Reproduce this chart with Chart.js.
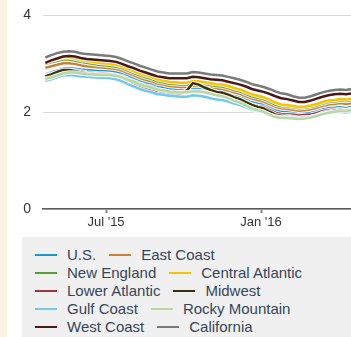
<!DOCTYPE html>
<html>
<head>
<meta charset="utf-8">
<script src="https://cdn.jsdelivr.net/npm/chart.js@4"></script>
<style>
  html, body { margin: 0; padding: 0; background: #fff; }
  body { width: 351px; height: 337px; position: relative; overflow: hidden; font-family: "Liberation Sans", Arial, sans-serif; }
  #strip { position: absolute; left: 0; top: 0; width: 7px; height: 337px; background: #fbf4e2; }
  #chart { position: absolute; left: 0; top: -5px; }
  #legend { position: absolute; left: 22px; top: 237px; width: 329px; height: 100px; background: #f0f0f0;
            box-sizing: border-box; padding: 9px 0 0 13px; font-size: 15px; color: #36465a; }
  .row { height: 18px; line-height: 18px; white-space: nowrap; }
  .item { display: inline-block; margin-right: 13px; }
  .sw { display: inline-block; width: 22px; height: 2px; vertical-align: middle; margin-right: 10px; position: relative; top: -1px; }
</style>
</head>
<body>
<div id="strip"></div>
<canvas id="chart" width="351" height="242"></canvas>
<div id="legend"></div>
<script>
// weekly dates (Mondays)
const weeks = [
  "2015-04-20","2015-04-27","2015-05-04","2015-05-11","2015-05-18","2015-05-25","2015-06-01","2015-06-08",
  "2015-06-15","2015-06-22","2015-06-29","2015-07-06","2015-07-13","2015-07-20","2015-07-27","2015-08-03",
  "2015-08-10","2015-08-17","2015-08-24","2015-08-31","2015-09-07","2015-09-14","2015-09-21","2015-09-28",
  "2015-10-05","2015-10-12","2015-10-19","2015-10-26","2015-11-02","2015-11-09","2015-11-16","2015-11-23",
  "2015-11-30","2015-12-07","2015-12-14","2015-12-21","2015-12-28","2016-01-04","2016-01-11","2016-01-18",
  "2016-01-25","2016-02-01","2016-02-08","2016-02-15","2016-02-22","2016-02-29","2016-03-07","2016-03-14",
  "2016-03-21","2016-03-28","2016-04-04","2016-04-11","2016-04-18"
];

const us = [2.78,2.82,2.86,2.90,2.91,2.90,2.88,2.87,2.86,2.85,2.85,2.85,2.83,2.80,2.75,2.70,2.65,2.61,2.58,2.53,2.51,2.48,2.47,2.46,2.46,2.49,2.49,2.47,2.44,2.42,2.41,2.38,2.34,2.31,2.26,2.21,2.18,2.16,2.10,2.04,2.01,2.01,1.99,1.97,1.98,1.99,2.02,2.06,2.08,2.09,2.10,2.08,2.11];
const eastCoast = [2.92,2.95,2.98,3.01,3.01,3.00,2.97,2.95,2.94,2.93,2.92,2.91,2.89,2.86,2.81,2.76,2.71,2.67,2.64,2.59,2.57,2.54,2.53,2.52,2.52,2.55,2.55,2.53,2.51,2.49,2.48,2.45,2.41,2.38,2.33,2.28,2.25,2.22,2.17,2.11,2.08,2.07,2.05,2.03,2.04,2.06,2.09,2.13,2.16,2.17,2.19,2.17,2.19];
const newEngland = [3.00,3.03,3.06,3.09,3.09,3.07,3.04,3.02,3.00,2.98,2.97,2.96,2.94,2.91,2.86,2.81,2.76,2.72,2.69,2.64,2.62,2.59,2.58,2.57,2.57,2.60,2.60,2.58,2.56,2.54,2.53,2.50,2.46,2.43,2.38,2.33,2.30,2.27,2.22,2.16,2.13,2.12,2.10,2.08,2.09,2.11,2.14,2.18,2.21,2.22,2.24,2.23,2.25];
const centralAtlantic = [3.04,3.07,3.10,3.13,3.13,3.11,3.08,3.06,3.04,3.02,3.01,3.00,2.98,2.95,2.90,2.85,2.80,2.76,2.73,2.68,2.66,2.63,2.62,2.61,2.61,2.64,2.64,2.62,2.60,2.58,2.57,2.54,2.50,2.47,2.42,2.37,2.34,2.31,2.26,2.20,2.16,2.15,2.13,2.11,2.12,2.14,2.17,2.21,2.24,2.25,2.27,2.26,2.28];
const lowerAtlantic = [2.76,2.79,2.82,2.86,2.87,2.86,2.84,2.82,2.81,2.80,2.80,2.79,2.77,2.74,2.69,2.64,2.59,2.55,2.52,2.47,2.45,2.42,2.41,2.41,2.41,2.44,2.44,2.42,2.39,2.37,2.36,2.33,2.29,2.26,2.21,2.16,2.13,2.11,2.05,1.99,1.96,1.96,1.95,1.93,1.94,1.95,1.98,2.02,2.04,2.05,2.06,2.04,2.07];
const midwest = [2.74,2.78,2.83,2.87,2.87,2.85,2.82,2.80,2.79,2.78,2.78,2.78,2.76,2.72,2.66,2.60,2.54,2.49,2.46,2.41,2.39,2.37,2.37,2.39,2.45,2.60,2.57,2.51,2.46,2.42,2.40,2.36,2.31,2.27,2.21,2.15,2.11,2.08,2.01,1.95,1.92,1.92,1.90,1.88,1.89,1.90,1.93,1.98,2.01,2.03,2.05,2.03,2.06];
const gulfCoast = [2.65,2.68,2.72,2.76,2.77,2.76,2.74,2.73,2.72,2.71,2.71,2.70,2.68,2.64,2.58,2.53,2.48,2.44,2.41,2.37,2.36,2.34,2.33,2.32,2.32,2.35,2.34,2.32,2.29,2.26,2.25,2.22,2.18,2.15,2.10,2.05,2.02,2.00,1.95,1.91,1.89,1.90,1.89,1.88,1.89,1.90,1.93,1.97,1.99,2.00,2.01,1.99,2.02];
const rockyMountain = [2.69,2.72,2.76,2.80,2.82,2.82,2.80,2.79,2.78,2.77,2.77,2.77,2.75,2.72,2.67,2.63,2.58,2.54,2.51,2.47,2.45,2.43,2.42,2.41,2.41,2.43,2.43,2.41,2.38,2.35,2.33,2.29,2.24,2.20,2.14,2.08,2.04,2.01,1.95,1.90,1.88,1.88,1.87,1.86,1.87,1.89,1.92,1.96,1.99,2.01,2.03,2.02,2.05];
const westCoast = [3.02,3.07,3.11,3.15,3.16,3.15,3.12,3.10,3.09,3.08,3.07,3.06,3.04,3.00,2.95,2.91,2.86,2.82,2.78,2.74,2.72,2.70,2.70,2.70,2.70,2.73,2.72,2.70,2.68,2.67,2.66,2.63,2.60,2.57,2.53,2.48,2.45,2.42,2.38,2.33,2.29,2.27,2.24,2.21,2.21,2.24,2.28,2.32,2.35,2.37,2.38,2.37,2.39];
const california = [3.13,3.18,3.22,3.25,3.26,3.25,3.22,3.20,3.19,3.18,3.17,3.16,3.14,3.10,3.05,3.01,2.96,2.92,2.88,2.84,2.82,2.80,2.80,2.80,2.80,2.83,2.82,2.80,2.78,2.77,2.76,2.73,2.70,2.67,2.63,2.58,2.55,2.52,2.48,2.43,2.39,2.37,2.33,2.30,2.30,2.33,2.37,2.41,2.44,2.46,2.47,2.46,2.48];

const seriesNames = ["U.S.", "East Coast", "New England", "Central Atlantic", "Lower Atlantic", "Midwest", "Gulf Coast", "Rocky Mountain", "West Coast", "California"];
const seriesValues = [us, eastCoast, newEngland, centralAtlantic, lowerAtlantic, midwest, gulfCoast, rockyMountain, westCoast, california];
const seriesColors = ["#1e95d4", "#cc7f35", "#5a9e2f", "#f5c300", "#a8323f", "#3b300a", "#72c8f0", "#b7d7a3", "#4b1717", "#7a7a7a"];

const tickDates = ["2015-07-01", "2016-01-01"];
const tickLabels = ["Jul '15", "Jan '16"];
const yTicks = [0, 2, 4];

// days since 2015-01-01
function dayNum(s) {
  const p = s.split("-").map(Number);
  return (Date.UTC(p[0], p[1] - 1, p[2]) - Date.UTC(2015, 0, 1)) / 86400000;
}
const xs = weeks.map(dayNum);
const tickDays = tickDates.map(dayNum);

// white halo under each line
const haloPlugin = {
  id: "halo",
  beforeDatasetDraw(chart, args) {
    const a = chart.chartArea;
    const ctx = chart.ctx;
    const pts = args.meta.data;
    ctx.save();
    ctx.beginPath();
    ctx.rect(a.left, a.top, a.right - a.left, a.bottom - a.top);
    ctx.clip();
    ctx.beginPath();
    pts.forEach((p, i) => i ? ctx.lineTo(p.x, p.y) : ctx.moveTo(p.x, p.y));
    ctx.strokeStyle = "rgba(255,255,255,0.85)";
    ctx.lineWidth = 4.5;
    ctx.lineJoin = "round";
    ctx.stroke();
    ctx.restore();
  }
};

const datasets = seriesNames.map((name, i) => ({
  label: name,
  data: seriesValues[i].map((v, j) => ({ x: xs[j], y: v })),
  borderColor: seriesColors[i],
  backgroundColor: seriesColors[i],
  borderWidth: 2.5,
  pointRadius: 0,
  fill: false,
  tension: 0,
  order: seriesNames.length - 1 - i
}));

new Chart(document.getElementById("chart").getContext("2d"), {
  type: "line",
  data: { datasets: datasets },
  plugins: [haloPlugin],
  options: {
    responsive: false,
    animation: false,
    devicePixelRatio: 1,
    layout: { padding: { top: 9, right: 0, left: 0, bottom: 0 } },
    plugins: { legend: { display: false }, tooltip: { enabled: false } },
    scales: {
      x: {
        type: "linear",
        min: 106.2,
        max: 471.8,
        afterFit: s => { s.height = 28; },
        afterBuildTicks: s => { s.ticks = tickDays.map(d => ({ value: d })); },
        ticks: {
          autoSkip: false,
          maxRotation: 0,
          padding: 2,
          color: "#333",
          font: { family: "'Liberation Sans', Arial, sans-serif", size: 13 },
          callback: (v) => tickLabels[tickDays.indexOf(v)]
        },
        grid: { drawOnChartArea: false, tickLength: 4, tickColor: "#888", tickWidth: 2 },
        border: { color: "#5a5a5a", width: 1.5 }
      },
      y: {
        min: 0,
        max: 4,
        afterFit: s => { s.width = 43; },
        afterBuildTicks: s => { s.ticks = yTicks.map(v => ({ value: v })); },
        ticks: {
          padding: 12,
          color: "#333",
          font: { family: "'Liberation Sans', Arial, sans-serif", size: 14 }
        },
        grid: { color: "#d9d9d9", lineWidth: 1, drawTicks: false },
        border: { display: false }
      }
    }
  }
});

// legend, two items per row
const legend = document.getElementById("legend");
for (let i = 0; i < seriesNames.length; i += 2) {
  const row = document.createElement("div");
  row.className = "row";
  [i, i + 1].forEach(k => {
    const item = document.createElement("span");
    item.className = "item";
    const sw = document.createElement("span");
    sw.className = "sw";
    sw.style.background = seriesColors[k];
    item.appendChild(sw);
    item.appendChild(document.createTextNode(seriesNames[k]));
    row.appendChild(item);
  });
  legend.appendChild(row);
}
</script>
</body>
</html>
